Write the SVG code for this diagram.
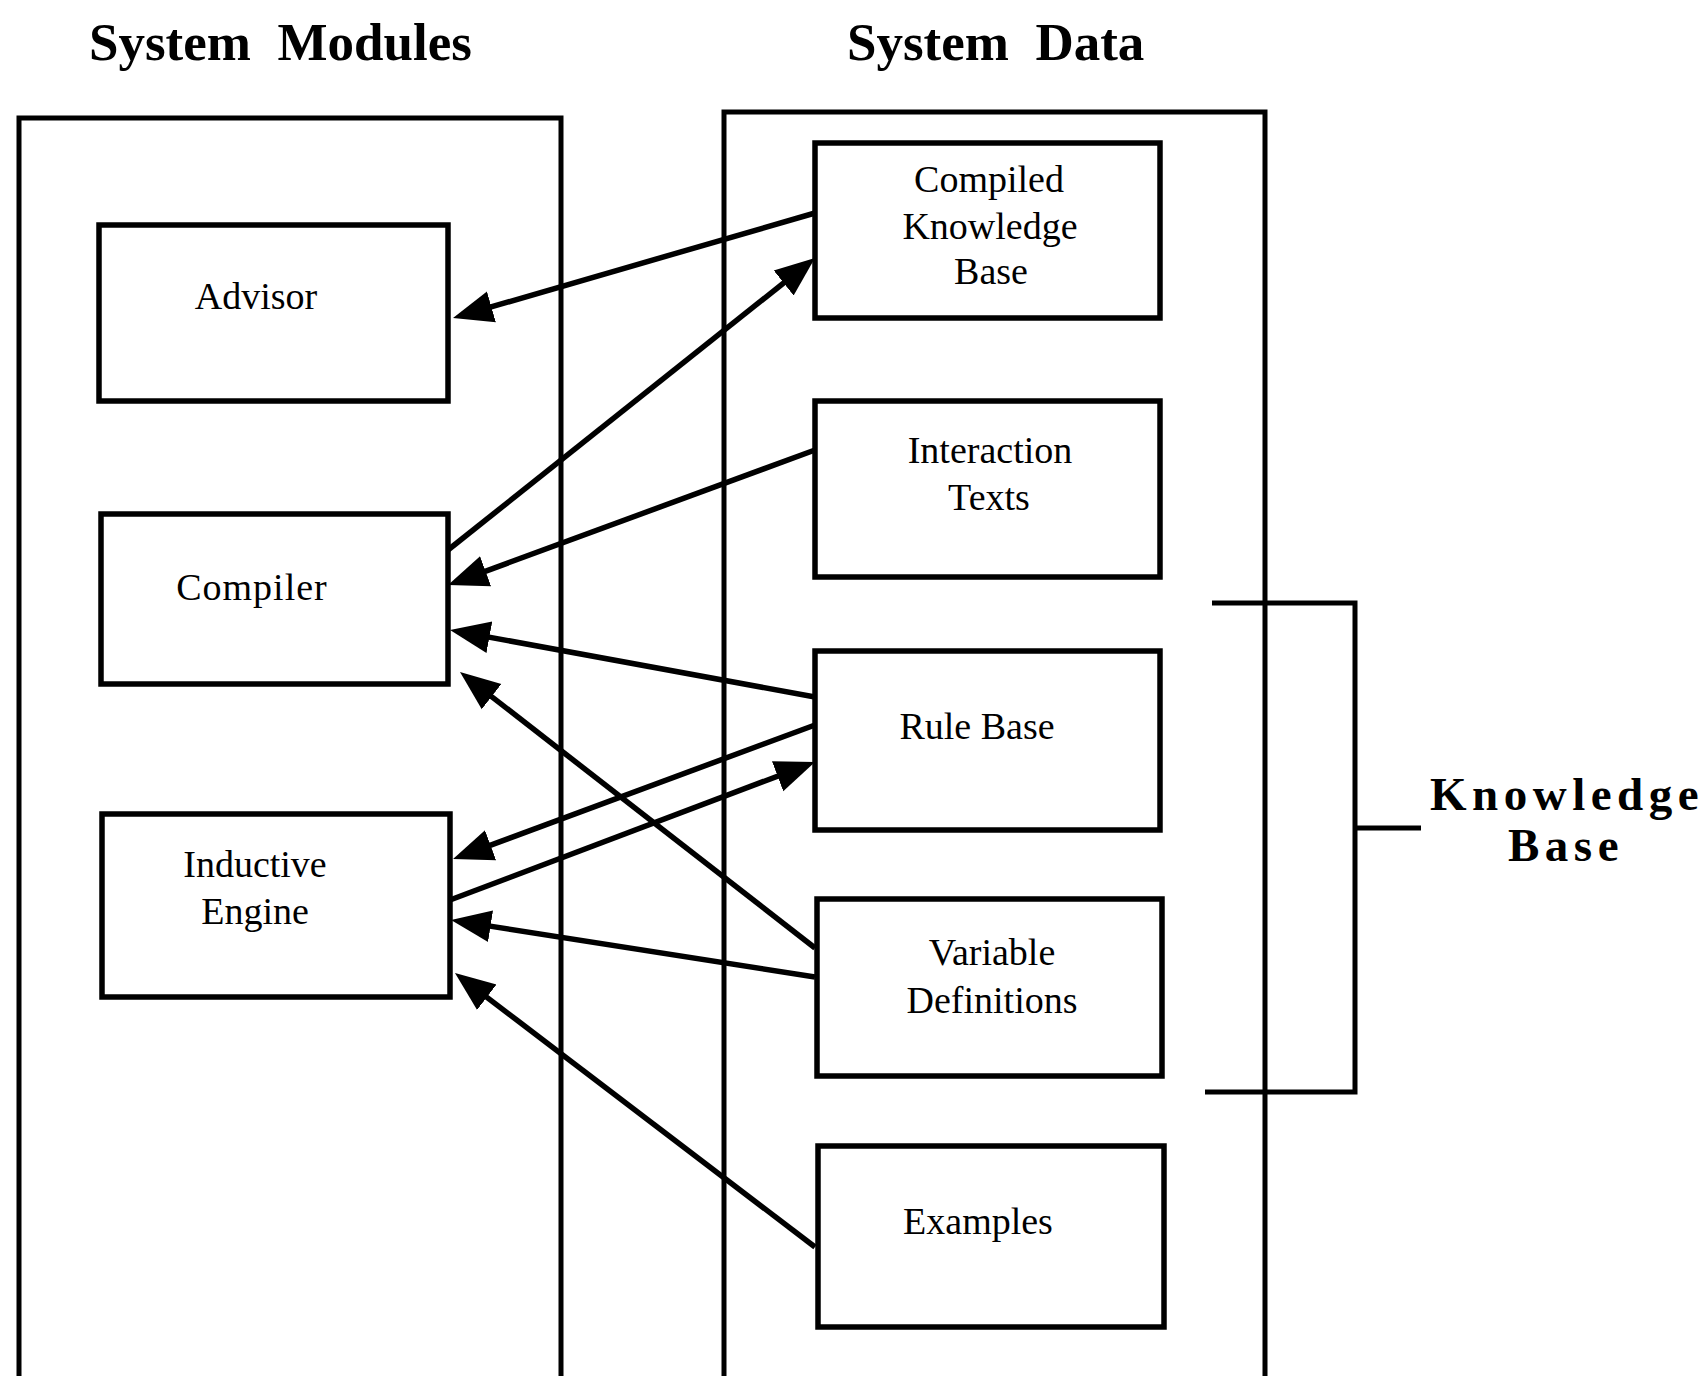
<svg xmlns="http://www.w3.org/2000/svg" width="1708" height="1376" viewBox="0 0 1708 1376">
<style>
.frame{fill:none;stroke:#000;stroke-width:5}
.box{fill:#fff;stroke:#000;stroke-width:5.5}
.lbl{font-family:"Liberation Serif","Times New Roman",serif;font-size:38px;fill:#000}
.ttl{font-family:"Liberation Serif","Times New Roman",serif;font-size:53px;font-weight:bold;fill:#000}
.kb{font-family:"Liberation Serif","Times New Roman",serif;font-size:47px;font-weight:bold;letter-spacing:5.5px;fill:#000}
.conn line{stroke:#000;stroke-width:5.5;marker-end:url(#ah)}
</style>
<defs>
<marker id="ah" markerUnits="userSpaceOnUse" markerWidth="44" markerHeight="36" viewBox="0 -18 44 36" refX="20" refY="0" orient="auto">
<path d="M0,-16 L40,0 L0,16 Z" fill="#000"/>
</marker>
</defs>
<rect width="1708" height="1376" fill="#fff"/>
<text class="ttl" x="89" y="60" xml:space="preserve">System  Modules</text>
<text class="ttl" x="847" y="60" xml:space="preserve">System  Data</text>
<g id="modules-frame"><path class="frame" d="M19,1376 V118 H561 V1376"/></g>
<g id="data-frame"><path class="frame" d="M724,1376 V112 H1265 V1376"/></g>
<g id="advisor"><rect class="box" x="99" y="225" width="349" height="176"/><text class="lbl" x="256" y="309" text-anchor="middle">Advisor</text></g>
<g id="compiler"><rect class="box" x="101" y="514" width="347" height="170"/><text class="lbl" x="252" y="600" text-anchor="middle" letter-spacing="1">Compiler</text></g>
<g id="inductive-engine"><rect class="box" x="102" y="814" width="348" height="183"/><text class="lbl" x="255" y="877" text-anchor="middle">Inductive</text><text class="lbl" x="255" y="924" text-anchor="middle">Engine</text></g>
<g id="compiled-kb"><rect class="box" x="815" y="143" width="345" height="175"/><text class="lbl" x="989" y="192" text-anchor="middle">Compiled</text><text class="lbl" x="990" y="239" text-anchor="middle">Knowledge</text><text class="lbl" x="991" y="284" text-anchor="middle">Base</text></g>
<g id="interaction-texts"><rect class="box" x="815" y="401" width="345" height="176"/><text class="lbl" x="990" y="463" text-anchor="middle">Interaction</text><text class="lbl" x="989" y="510" text-anchor="middle">Texts</text></g>
<g id="rule-base"><rect class="box" x="815" y="651" width="345" height="179"/><text class="lbl" x="977" y="739" text-anchor="middle">Rule Base</text></g>
<g id="variable-definitions"><rect class="box" x="817" y="899" width="345" height="177"/><text class="lbl" x="992" y="965" text-anchor="middle">Variable</text><text class="lbl" x="992" y="1013" text-anchor="middle">Definitions</text></g>
<g id="examples"><rect class="box" x="818" y="1146" width="346" height="181"/><text class="lbl" x="978" y="1234" text-anchor="middle">Examples</text></g>
<g id="kb-bracket"><path class="frame" d="M1212,603 H1355 V1092 H1205 M1355,828 H1421"/><text class="kb" x="1430" y="810">Knowledge</text><text class="kb" x="1508" y="861">Base</text></g>
<g class="conn" id="connectors">
<line x1="815" y1="213" x2="472.2" y2="312.4"/>
<line x1="448" y1="550" x2="799.3" y2="270.5"/>
<line x1="815" y1="450" x2="466.8" y2="578.1"/>
<line x1="815" y1="697" x2="469.7" y2="633.6"/>
<line x1="815" y1="948" x2="475.8" y2="684.3"/>
<line x1="815" y1="725" x2="471.8" y2="852.1"/>
<line x1="450" y1="900" x2="796.3" y2="769.1"/>
<line x1="815" y1="977" x2="470.8" y2="923.1"/>
<line x1="815" y1="1247" x2="470.9" y2="985.1"/>
</g>
</svg>
